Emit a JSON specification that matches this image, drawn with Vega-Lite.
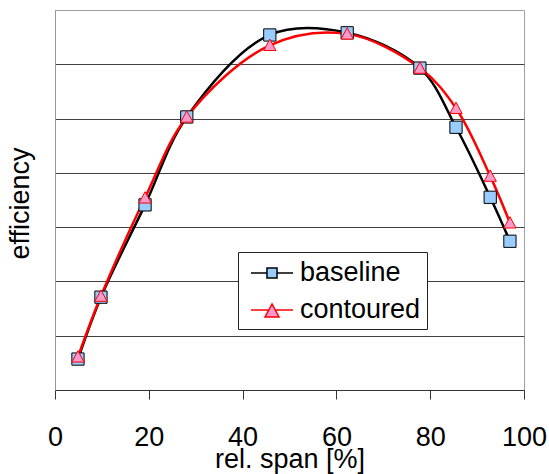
{
  "$schema": "https://vega.github.io/schema/vega-lite/v6.json",
  "width": 469,
  "height": 380,
  "autosize": {"type": "none"},
  "padding": {"left": 55, "top": 10, "right": 25, "bottom": 84},
  "background": "white",
  "config": {
    "view": {"stroke": "#a0a0a0", "strokeWidth": 1},
    "font": "Liberation Sans"
  },
  "data": {
    "values": [
      {"span": 4.9, "eff": 0.57, "series": "baseline", "marker": "square"},
      {"span": 9.8, "eff": 1.71, "series": "baseline", "marker": "square"},
      {"span": 19.2, "eff": 3.41, "series": "baseline", "marker": "square"},
      {"span": 28.1, "eff": 5.03, "series": "baseline", "marker": "square"},
      {"span": 45.8, "eff": 6.54, "series": "baseline", "marker": "square"},
      {"span": 62.3, "eff": 6.58, "series": "baseline", "marker": "square"},
      {"span": 77.8, "eff": 5.93, "series": "baseline", "marker": "square"},
      {"span": 85.5, "eff": 4.84, "series": "baseline", "marker": "square"},
      {"span": 92.8, "eff": 3.55, "series": "baseline", "marker": "square"},
      {"span": 97.0, "eff": 2.74, "series": "baseline", "marker": "square"},
      {"span": 4.9, "eff": 0.61, "series": "contoured", "marker": "triangle"},
      {"span": 9.8, "eff": 1.73, "series": "contoured", "marker": "triangle"},
      {"span": 19.2, "eff": 3.54, "series": "contoured", "marker": "triangle"},
      {"span": 28.1, "eff": 5.03, "series": "contoured", "marker": "triangle"},
      {"span": 45.8, "eff": 6.35, "series": "contoured", "marker": "triangle"},
      {"span": 62.3, "eff": 6.56, "series": "contoured", "marker": "triangle"},
      {"span": 77.8, "eff": 5.93, "series": "contoured", "marker": "triangle"},
      {"span": 85.5, "eff": 5.19, "series": "contoured", "marker": "triangle"},
      {"span": 92.8, "eff": 3.94, "series": "contoured", "marker": "triangle"},
      {"span": 97.0, "eff": 3.08, "series": "contoured", "marker": "triangle"}
    ]
  },
  "encoding": {
    "x": {
      "field": "span", "type": "quantitative",
      "scale": {"domain": [0, 100], "nice": false, "zero": false},
      "axis": {
        "values": [0, 20, 40, 60, 80, 100],
        "grid": false,
        "tickSize": 9, "tickColor": "#333", "domainColor": "#333",
        "labelFontSize": 27, "labelFont": "Liberation Sans", "labelColor": "black",
        "labelBaseline": "alphabetic", "labelPadding": 46,
        "labelFlush": false, "labelOverlap": false,
        "title": "rel. span [%]", "titleFontSize": 27, "titleFont": "Liberation Sans",
        "titleFontWeight": "normal", "titleColor": "black",
        "titleBaseline": "alphabetic", "titleY": 77, "titleX": 234.5, "titleAlign": "center"
      }
    },
    "y": {
      "field": "eff", "type": "quantitative",
      "scale": {"domain": [0, 7], "nice": false, "zero": false},
      "axis": {
        "values": [1, 2, 3, 4, 5, 6],
        "grid": true, "gridColor": "#404040", "gridWidth": 1,
        "ticks": false, "labels": false,
        "domainColor": "#999",
        "title": "efficiency", "titleFontSize": 27, "titleFont": "Liberation Sans",
        "titleFontWeight": "normal", "titleColor": "black",
        "titleAngle": 270, "titleBaseline": "alphabetic", "titleAlign": "center",
        "titleX": -27, "titleY": 193
      }
    }
  },
  "layer": [
    {
      "mark": {"type": "line", "interpolate": "catmull-rom", "strokeWidth": 2.5},
      "encoding": {
        "stroke": {
          "field": "series", "type": "nominal",
          "scale": {"domain": ["baseline", "contoured"], "range": ["#000000", "#ff0000"]},
          "legend": {
            "title": null,
            "orient": "none", "legendX": 183, "legendY": 242,
            "fillColor": "white", "strokeColor": "#222", "padding": 6,
            "labelFontSize": 27, "labelFont": "Liberation Sans", "labelColor": "black",
            "symbolSize": 784, "symbolStrokeWidth": 1.5,
            "symbolOffset": 13, "labelOffset": 13, "rowPadding": 9,
            "encode": {
              "symbols": {
                "update": {
                  "shape": {"signal": "datum.value === 'baseline' ? 'M-1.5,0H-0.36M0.36,0H1.5M-0.36,-0.36H0.36V0.36H-0.36Z' : 'M-1.5,0H-0.23M0.23,0H1.5M0,-0.43L0.5,0.5H-0.5Z'"},
                  "fill": {"signal": "datum.value === 'baseline' ? '#99ccff' : '#ff99cc'"},
                  "stroke": {"signal": "datum.value === 'baseline' ? '#000000' : '#ff0000'"},
                  "opacity": {"value": 1},
                  "fillOpacity": {"value": 1},
                  "strokeOpacity": {"value": 1}
                }
              }
            }
          }
        }
      }
    },
    {
      "mark": {"type": "point", "filled": true, "opacity": 1, "strokeWidth": 1, "size": 150},
      "encoding": {
        "stroke": {"field": "series", "type": "nominal"},
        "fill": {
          "field": "marker", "type": "nominal",
          "scale": {"domain": ["square", "triangle"], "range": ["#99ccff", "#ff99cc"]},
          "legend": null
        },
        "shape": {
          "field": "marker", "type": "nominal",
          "scale": {"domain": ["square", "triangle"], "range": ["square", "M0,-1L1,0.85L-1,0.85Z"]},
          "legend": null
        }
      }
    }
  ]
}
